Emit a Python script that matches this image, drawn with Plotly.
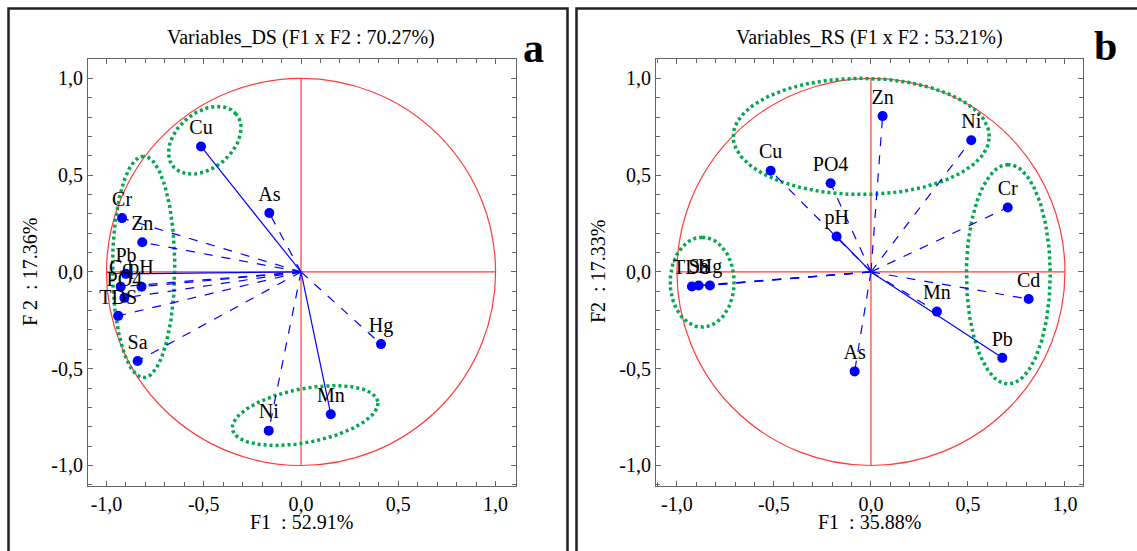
import numpy as np
import plotly.graph_objects as go

W, H = 1137, 551

# ---------------- data ----------------
vars_a = ["Cu", "As", "Cr", "Zn", "Pb", "Cd", "pH", "PO4", "TDS", "Sa", "Hg", "Mn", "Ni"]
f1_a = [-0.514, -0.163, -0.920, -0.816, -0.900, -0.927, -0.820, -0.908, -0.940, -0.840, 0.411, 0.153, -0.166]
f2_a = [0.648, 0.304, 0.278, 0.153, -0.010, -0.076, -0.076, -0.134, -0.227, -0.460, -0.373, -0.735, -0.820]
dash_a = ["solid", "dash", "dash", "dash", "solid", "dash", "dash", "dash", "dash", "dash", "dash", "solid", "dash"]

vars_b = ["Zn", "Ni", "Cu", "PO4", "pH", "Cr", "Cd", "Mn", "Pb", "As", "TDS", "Sa", "Hg"]
f1_b = [0.060, 0.517, -0.517, -0.208, -0.177, 0.705, 0.813, 0.340, 0.677, -0.084, -0.923, -0.888, -0.830]
f2_b = [0.805, 0.680, 0.523, 0.458, 0.183, 0.333, -0.140, -0.205, -0.444, -0.514, -0.075, -0.070, -0.070]
dash_b = ["dash", "dash", "dash", "dash", "solid", "dash", "dash", "dash", "solid", "dash", "dash", "dash", "dash"]

# group ellipses: centre, semi-axes, angle (deg)
ell_a_cx = [-0.495, -0.809, 0.021]
ell_a_cy = [0.680, 0.026, -0.742]
ell_a_a = [0.211, 0.572, 0.381]
ell_a_b = [0.144, 0.160, 0.139]
ell_a_ang = [40, 90, 11]

ell_b_cx = [-0.050, 0.708, -0.870]
ell_b_cy = [0.700, -0.012, -0.053]
ell_b_a = [0.660, 0.567, 0.232]
ell_b_b = [0.300, 0.216, 0.165]
ell_b_ang = [0, 90, 90]

tick_vals = [-1.0, -0.5, 0.0, 0.5, 1.0]
tick_text = ["-1,0", "-0,5", "0,0", "0,5", "1,0"]

title_a = "Variables_DS (F1 x F2 : 70.27%)"
title_b = "Variables_RS (F1 x F2 : 53.21%)"
xlab_a = "F1  : 52.91%"
ylab_a = "F 2  : 17.36%"
xlab_b = "F1  : 35.88%"
ylab_b = "F2  : 17.33%"

FONT = "Liberation Serif, Times New Roman, DejaVu Serif, serif"
BLUE = "#0000FF"
RED = "#FF3B3B"
GREEN = "#00A84F"

fig = go.Figure()


def add_panel(xa, ya, names, f1, f2, dashes, ecx, ecy, ea, eb, eang):
    t = np.linspace(0, 2 * np.pi, 200)
    for cx, cy, a, b, ang in zip(ecx, ecy, ea, eb, eang):
        th = np.deg2rad(ang)
        ex = cx + a * np.cos(t) * np.cos(th) - b * np.sin(t) * np.sin(th)
        ey = cy + a * np.cos(t) * np.sin(th) + b * np.sin(t) * np.cos(th)
        fig.add_trace(go.Scatter(x=ex, y=ey, mode="lines", xaxis=xa, yaxis=ya,
                                 line=dict(color=GREEN, width=3.5, dash="3px,3px"),
                                 hoverinfo="skip", showlegend=False))
    for n, x, y, d in zip(names, f1, f2, dashes):
        fig.add_trace(go.Scatter(x=[0, x], y=[0, y], mode="lines", xaxis=xa, yaxis=ya,
                                 line=dict(color=BLUE, width=1.2, dash=d),
                                 hoverinfo="skip", showlegend=False))
    fig.add_trace(go.Scatter(x=f1, y=f2, mode="markers+text", text=names,
                             textposition="top center", xaxis=xa, yaxis=ya,
                             marker=dict(color=BLUE, size=10),
                             textfont=dict(family=FONT, size=20, color="black"),
                             showlegend=False, name=""))


add_panel("x", "y", vars_a, f1_a, f2_a, dash_a, ell_a_cx, ell_a_cy, ell_a_a, ell_a_b, ell_a_ang)
add_panel("x2", "y2", vars_b, f1_b, f2_b, dash_b, ell_b_cx, ell_b_cy, ell_b_a, ell_b_b, ell_b_ang)


def px_x(p):
    return p / W


def px_y(p):
    return 1 - p / H


axis_common = dict(
    showline=True, linecolor="#666666", linewidth=1, mirror="allticks",
    ticks="inside", ticklen=5, tickcolor="#666666",
    tickmode="array", tickvals=tick_vals, ticktext=tick_text,
    tickfont=dict(family=FONT, size=20, color="black"),
    minor=dict(tickmode="linear", tick0=0, dtick=0.1, ticks="inside", ticklen=4, tickcolor="#666666"),
    showgrid=False, zeroline=False, fixedrange=True,
)

ydom = [px_y(486), px_y(59)]
fig.update_layout(
    xaxis=dict(axis_common, domain=[px_x(88), px_x(516)], range=[-1.095, 1.105], anchor="y"),
    yaxis=dict(axis_common, domain=ydom, range=[-1.106, 1.10], anchor="x"),
    xaxis2=dict(axis_common, domain=[px_x(656), px_x(1083)], range=[-1.108, 1.093], anchor="y2"),
    yaxis2=dict(axis_common, domain=ydom, range=[-1.106, 1.10], anchor="x2"),
)

shapes = []
for xr, yr in (("x", "y"), ("x2", "y2")):
    shapes.append(dict(type="circle", xref=xr, yref=yr, x0=-1, x1=1, y0=-1, y1=1,
                       line=dict(color=RED, width=1.2), layer="below"))
    shapes.append(dict(type="line", xref=xr, yref=yr, x0=-1, x1=1, y0=0, y1=0,
                       line=dict(color=RED, width=1.2), layer="below"))
    shapes.append(dict(type="line", xref=xr, yref=yr, x0=0, x1=0, y0=-1, y1=1,
                       line=dict(color=RED, width=1.2), layer="below"))
# outer panel frames
shapes.append(dict(type="rect", xref="paper", yref="paper", x0=px_x(8.5), x1=px_x(567.5),
                   y0=-0.05, y1=px_y(8.5), line=dict(color="#222222", width=2.5)))
shapes.append(dict(type="rect", xref="paper", yref="paper", x0=px_x(576.5), x1=1.05,
                   y0=-0.05, y1=px_y(8.5), line=dict(color="#222222", width=2.5)))

ann = []


def add_text(txt, x, y, size, bold=False, angle=0):
    ann.append(dict(text=("<b>%s</b>" % txt) if bold else txt, x=px_x(x), y=px_y(y),
                    xref="paper", yref="paper", showarrow=False, textangle=angle,
                    xanchor="center", yanchor="middle",
                    font=dict(family=FONT, size=size, color="black")))


add_text(title_a, 301, 37, 20)
add_text(title_b, 869, 37, 20)
add_text("a", 533, 48, 42, bold=True)
add_text("b", 1105, 46, 42, bold=True)
add_text(xlab_a, 301, 522, 20)
add_text(xlab_b, 869, 522, 20)
add_text(ylab_a, 30, 272, 20, angle=-90)
add_text(ylab_b, 598, 272, 20, angle=-90)

fig.update_layout(
    width=W, height=H, margin=dict(l=0, r=0, t=0, b=0),
    paper_bgcolor="white", plot_bgcolor="white",
    shapes=shapes, annotations=ann, showlegend=False,
    font=dict(family=FONT),
)

fig.write_html("out.html")
